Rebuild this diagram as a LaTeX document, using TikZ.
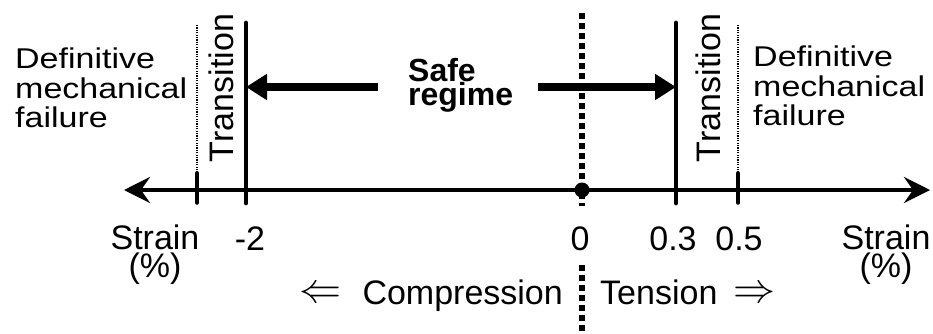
\documentclass[tikz,border=0pt]{standalone}
\usepackage{fontspec}
\setmainfont{Liberation Sans}
\usetikzlibrary{arrows.meta}
\newcommand{\squeezed}[1]{\scalebox{1}[0.84]{\fontsize{34}{34}\selectfont\begin{tabular}{@{}l@{}}#1\end{tabular}}}
\newcommand{\dblleft}{\resizebox{42pt}{!}{$\Leftarrow$}}
\newcommand{\dblright}{\resizebox{42pt}{!}{$\Rightarrow$}}
\begin{document}
\begin{tikzpicture}[x=1pt,y=-1pt,
  lbl/.style={inner sep=0pt, font=\fontsize{34}{28}\selectfont},
  axis/.style={line width=4pt, {Stealth[length=26pt,width=26pt,inset=9pt]}-{Stealth[length=26pt,width=26pt,inset=9pt]}},
  limit/.style={line width=4.8pt, line cap=round},
  fine/.style={line width=1.8pt, dash pattern=on 1.2pt off 1.2pt},
  finetick/.style={line width=3.5pt, line cap=round},
  zero/.style={line width=6pt, dash pattern=on 6pt off 4pt},
  safe/.style={line width=8pt, -{Triangle[length=21pt,width=25pt]}}]
\useasboundingbox (0,0) rectangle (933,333);

% strain axis
\coordinate (axL) at (124,190);
\coordinate (axR) at (930,190);
\draw[axis] (axL) -- (axR);

% limits of the safe regime
\coordinate (cT) at (246,23);  \coordinate (cB) at (246,203);
\coordinate (tT) at (676,23);  \coordinate (tB) at (676,203);
\draw[limit] (cT) -- (cB);
\draw[limit] (tT) -- (tB);

% limits of definitive failure
\coordinate (fcT) at (197,25); \coordinate (fcM) at (197,173); \coordinate (fcB) at (197,203);
\coordinate (ftT) at (738,25); \coordinate (ftM) at (738,173); \coordinate (ftB) at (738,203);
\draw[fine] (fcT) -- (fcM);
\draw[finetick] (fcM) -- (fcB);
\draw[fine] (ftT) -- (ftM);
\draw[finetick] (ftM) -- (ftB);

% zero strain
\coordinate (zT) at (582,13);  \coordinate (zM) at (582,206);
\coordinate (zL) at (582,265); \coordinate (zB) at (582,333);
\draw[zero] (zT) -- (zM);
\draw[zero] (zL) -- (zB);
\fill (582,190) circle (7.5pt);

% safe regime arrows
\coordinate (sL0) at (378,87); \coordinate (sL1) at (246,87);
\coordinate (sR0) at (538,87); \coordinate (sR1) at (676,87);
\draw[safe] (sL0) -- (sL1);
\draw[safe] (sR0) -- (sR1);

\node[inner sep=0pt, anchor=north west, align=left,
      font=\fontsize{32}{24}\selectfont\bfseries] (safe) at (408,58) {Safe\\regime};

% regime labels
\node[inner sep=0pt, anchor=north west] (failL) at (15,48)
  {\squeezed{Definitive\\mechanical\\failure}};
\node[inner sep=0pt, anchor=north west] (failR) at (753,46)
  {\squeezed{Definitive\\mechanical\\failure}};
\node[lbl, rotate=90, anchor=base] (transL) at (233,88) {Transition};
\node[lbl, rotate=90, anchor=base] (transR) at (720,88) {Transition};

% tick labels
\node[lbl, anchor=north, align=center] (strL) at (155,225) {Strain\\(\%)};
\node[lbl, anchor=north, align=center] (strR) at (886,225) {Strain\\(\%)};
\node[lbl, anchor=base] (m2) at (250,250) {-2};
\node[lbl, anchor=base] (n0) at (580,250) {0};
\node[lbl, anchor=base] (p3) at (673,250) {0.3};
\node[lbl, anchor=base] (p5) at (739,250) {0.5};

% sign convention
\node[lbl, anchor=base east] (comp) at (563,304) {\raisebox{2pt}{\dblleft}\hspace{21pt}Compression};
\node[lbl, anchor=base west] (tens) at (600,304) {Tension\hspace{16pt}\raisebox{2pt}{\dblright}};
\end{tikzpicture}
\end{document}
